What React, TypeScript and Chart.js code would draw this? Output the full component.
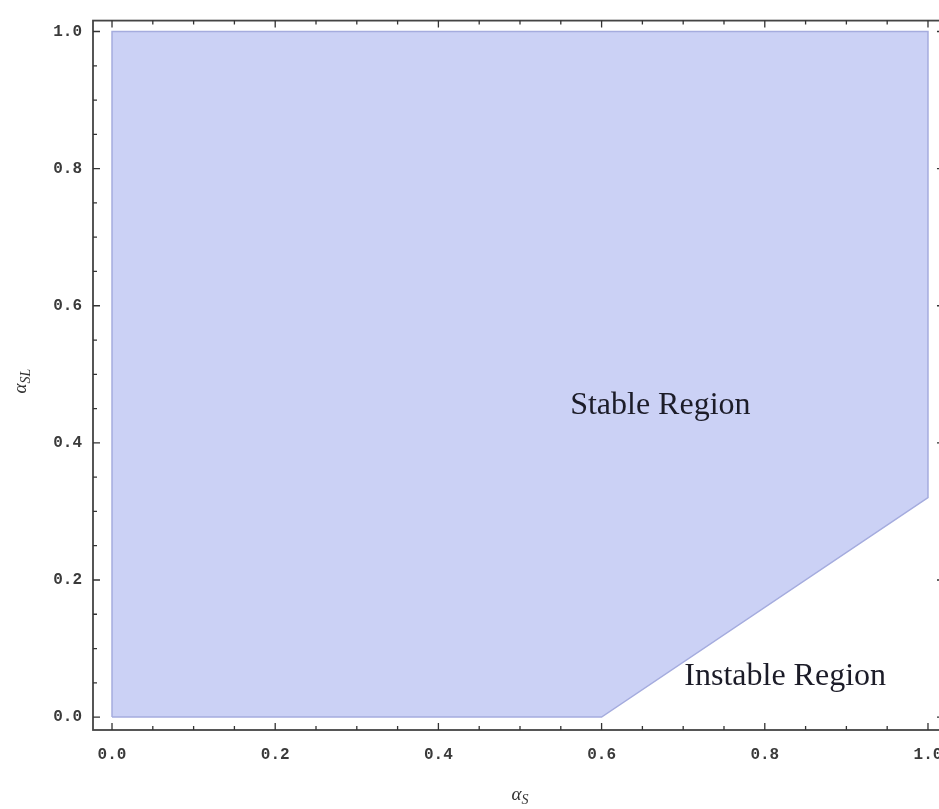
import React, { useEffect, useRef } from 'react';
import { Chart, registerables } from 'chart.js';

Chart.register(...registerables);

// Region boundary (polygon vertices, data coordinates)
const regionX = [0, 0, 1, 1, 0.6, 0];
const regionY = [0, 1, 1, 0.32, 0, 0];

// Tick values (major every 0.2, minor every 0.05)
const tickValues = [0, 0.05, 0.1, 0.15, 0.2, 0.25, 0.3, 0.35, 0.4, 0.45, 0.5, 0.55, 0.6, 0.65, 0.7, 0.75, 0.8, 0.85, 0.9, 0.95, 1.0];
const majorValues = [0, 0.2, 0.4, 0.6, 0.8, 1.0];
const tickLabels = ['0.0', '0.2', '0.4', '0.6', '0.8', '1.0'];

// Region names and where they sit (data coordinates)
const regionNames = ['Stable Region', 'Instable Region'];
const regionNameX = [0.672, 0.825];
const regionNameY = [0.455, 0.059];

// Plot range with frame padding
const X_MIN = -0.0233;
const X_FRAME_MAX = 1.0196;
const X_MAX = 1.0135;
const Y_MIN = -0.0188;
const Y_MAX = 1.0159;

const isMajor = (v: number) => majorValues.some((m) => Math.abs(m - v) < 1e-6);
const labelFor = (v: number) => {
  const i = majorValues.findIndex((m) => Math.abs(m - v) < 1e-6);
  return i >= 0 ? tickLabels[i] : '';
};

const framePlugin = {
  id: 'framePlugin',
  afterDraw(chart: any) {
    const ctx = chart.ctx;
    const { left, top, bottom } = chart.chartArea;
    const xs = chart.scales.x;
    const ys = chart.scales.y;
    const right = xs.getPixelForValue(X_FRAME_MAX);
    ctx.save();
    // frame
    ctx.strokeStyle = '#444';
    ctx.lineWidth = 1.8;
    ctx.strokeRect(left, top, right - left, bottom - top);
    // inward ticks
    ctx.lineWidth = 1.3;
    ctx.strokeStyle = '#333';
    ctx.beginPath();
    tickValues.forEach((v) => {
      const len = isMajor(v) ? 7 : 4;
      const px = xs.getPixelForValue(v);
      ctx.moveTo(px, bottom);
      ctx.lineTo(px, bottom - len);
      ctx.moveTo(px, top);
      ctx.lineTo(px, top + len);
      const py = ys.getPixelForValue(v);
      ctx.moveTo(left, py);
      ctx.lineTo(left + len, py);
      ctx.moveTo(right, py);
      ctx.lineTo(right - len, py);
    });
    ctx.stroke();

    // region names
    ctx.fillStyle = '#1c1c28';
    ctx.font = '32px "Liberation Serif", "DejaVu Serif", serif';
    ctx.textAlign = 'center';
    ctx.textBaseline = 'middle';
    regionNames.forEach((name, i) => {
      ctx.fillText(name, xs.getPixelForValue(regionNameX[i]), ys.getPixelForValue(regionNameY[i]));
    });

    // axis titles with subscripts
    const drawTitle = (main: string, sub: string) => {
      ctx.font = 'italic 19px "Liberation Serif", serif';
      const wm = ctx.measureText(main).width;
      ctx.font = 'italic 14px "Liberation Serif", serif';
      const ws = ctx.measureText(sub).width;
      const total = wm + ws;
      ctx.textAlign = 'left';
      ctx.textBaseline = 'alphabetic';
      ctx.font = 'italic 19px "Liberation Serif", serif';
      ctx.fillText(main, -total / 2, 0);
      ctx.font = 'italic 14px "Liberation Serif", serif';
      ctx.fillText(sub, -total / 2 + wm, 4);
    };
    ctx.fillStyle = '#333';
    // x title
    ctx.save();
    ctx.translate(xs.getPixelForValue(0.5), 800);
    drawTitle('\u03b1', 'S');
    ctx.restore();
    // y title
    ctx.save();
    ctx.translate(26, ys.getPixelForValue(0.49));
    ctx.rotate(-Math.PI / 2);
    drawTitle('\u03b1', 'SL');
    ctx.restore();

    ctx.restore();
  },
};

export default function App() {
  const ref = useRef<HTMLCanvasElement | null>(null);
  useEffect(() => {
    if (!ref.current) return;
    const tickFont = { family: '"Liberation Mono", "DejaVu Sans Mono", monospace', size: 16, weight: 'bold' as const };
    const chart = new Chart(ref.current, {
      type: 'scatter',
      data: {
        datasets: [
          {
            data: regionX.map((x, i) => ({ x, y: regionY[i] })),
            showLine: true,
            fill: 'shape',
            backgroundColor: 'rgb(203, 209, 245)',
            borderColor: 'rgb(165, 172, 222)',
            borderWidth: 1.5,
            pointRadius: 0,
            tension: 0,
          } as any,
        ],
      },
      options: {
        animation: false,
        responsive: false,
        maintainAspectRatio: false,
        layout: { padding: { left: 0, top: 13, right: 0, bottom: 0 } },
        plugins: { legend: { display: false }, tooltip: { enabled: false } },
        scales: {
          x: {
            type: 'linear',
            min: X_MIN,
            max: X_MAX,
            afterBuildTicks: (scale: any) => {
              scale.ticks = tickValues.map((v) => ({ value: v }));
            },
            afterFit: (scale: any) => {
              scale.height = 79;
              scale.paddingLeft = 0;
              scale.paddingRight = 0;
            },
            grid: { display: false, drawTicks: false },
            border: { display: false },
            ticks: {
              autoSkip: false,
              maxRotation: 0,
              padding: 15,
              color: '#3a3a3a',
              font: tickFont,
              callback: (v: any) => labelFor(Number(v)),
            },
          },
          y: {
            type: 'linear',
            min: Y_MIN,
            max: Y_MAX,
            afterBuildTicks: (scale: any) => {
              scale.ticks = tickValues.map((v) => ({ value: v }));
            },
            afterFit: (scale: any) => {
              scale.width = 93;
            },
            grid: { display: false, drawTicks: false },
            border: { display: false },
            ticks: {
              autoSkip: false,
              padding: 11,
              color: '#3a3a3a',
              font: tickFont,
              callback: (v: any) => labelFor(Number(v)),
            },
          },
        },
      },
      plugins: [framePlugin],
    });
    return () => chart.destroy();
  }, []);
  return (
    <div style={{ position: 'fixed', left: 0, top: 0, width: 939, height: 809, background: '#fff' }}>
      <canvas ref={ref} width={939} height={809} style={{ display: 'block' }} />
    </div>
  );
}
